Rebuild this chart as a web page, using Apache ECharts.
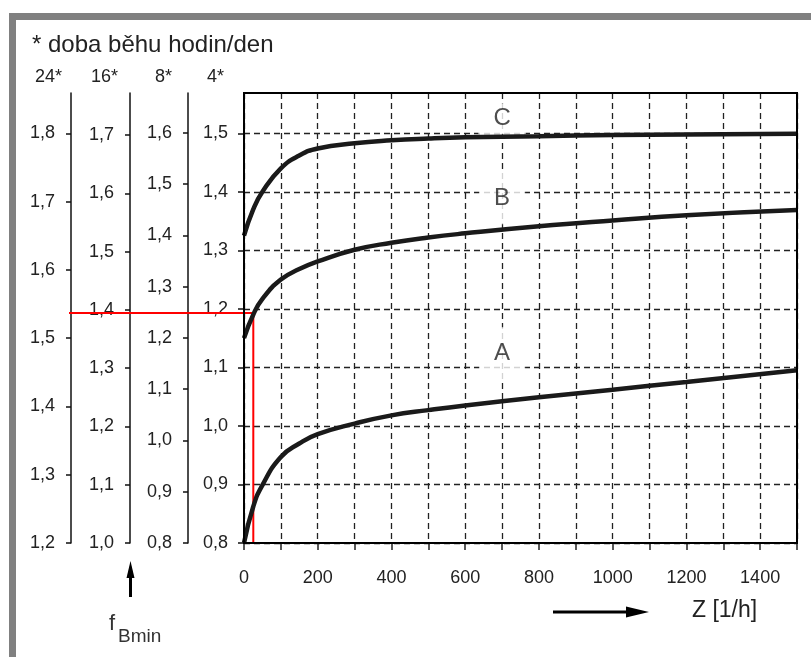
<!DOCTYPE html>
<html><head><meta charset="utf-8">
<script src="https://cdn.jsdelivr.net/npm/echarts@6/dist/echarts.min.js"></script>
<style>html,body{margin:0;padding:0;background:#fff}#c{width:811px;height:657px}</style>
</head><body><div id="c"></div><script>
// ---- data ----
const zValues = [0, 25, 50, 100, 150, 200, 300, 400, 500, 600, 800, 1000, 1200, 1500];
const curveA  = [0.80, 0.862, 0.899, 0.947, 0.970, 0.986, 1.004, 1.018, 1.027, 1.035, 1.049, 1.062, 1.075, 1.095];
const curveB  = [1.15, 1.19, 1.217, 1.25, 1.268, 1.281, 1.301, 1.313, 1.322, 1.329, 1.341, 1.351, 1.360, 1.369];
const curveC  = [1.325, 1.37, 1.40, 1.44, 1.462, 1.474, 1.483, 1.488, 1.491, 1.493, 1.495, 1.497, 1.498, 1.499];
const curveNames = ['A', 'B', 'C'];
const curveLabelZ = 700;
const curveLabelLevels = [1.124, 1.389, 1.525];
const refZ = [-475, 25, 25];
const refF = [1.193, 1.193, 0.80];
const xTickLabels = [0, 200, 400, 600, 800, 1000, 1200, 1400];
const axis4Ticks  = [0.8, 0.9, 1.0, 1.1, 1.2, 1.3, 1.4, 1.5];
const axis8Ticks  = [0.8, 0.9, 1.0, 1.1, 1.2, 1.3, 1.4, 1.5, 1.6];
const axis16Ticks = [1.0, 1.1, 1.2, 1.3, 1.4, 1.5, 1.6, 1.7];
const axis24Ticks = [1.2, 1.3, 1.4, 1.5, 1.6, 1.7, 1.8];
const axisNames = ['4*', '8*', '16*', '24*'];
const titleText = '* doba běhu hodin/den';
const xName = 'Z [1/h]';

// ---- chart ----
const FONT = "'Liberation Sans', sans-serif";
const fmt = v => v.toFixed(1).replace('.', ',');
const toPairs = (xs, ys) => xs.map((x, i) => [x, ys[i]]);
const Z_MIN = 0, Z_MAX = 1500, F4_MIN = 0.8, F4_MAX = 1.5688;
const labelPads = [[14, 15, 14, 15], [14, 15, 14, 15], [4, 15, 3, 15]];

function yAx(name, min, max, ticks, offset, pr, isMain) {
  return {
    type: 'value', gridIndex: 0, position: 'left', offset: offset, min: min, max: max,
    name: name, nameLocation: 'end', nameGap: 7,
    nameTextStyle: {fontFamily: FONT, fontSize: 18, color: '#222', align: 'right', verticalAlign: 'bottom', padding: [0, pr, 0, 0]},
    axisLine: {show: true, lineStyle: {color: '#111', width: isMain ? 2 : 1.5}},
    axisTick: {show: true, length: isMain ? 6 : 5, customValues: ticks, lineStyle: {color: '#111', width: 1.5}},
    axisLabel: {customValues: ticks, formatter: fmt, margin: 16, fontFamily: FONT, fontSize: 18, color: '#222'},
    splitLine: {show: !!isMain, lineStyle: {type: [6, 4], color: '#222', width: 1.3}}
  };
}

const chart = echarts.init(document.getElementById('c'), null, {renderer: 'canvas'});
chart.setOption({
  backgroundColor: '#fff',
  animation: false,
  title: {text: titleText, left: 27, top: 28, textStyle: {fontFamily: FONT, fontSize: 24, fontWeight: 'normal', color: '#222'}},
  grid: [
    {left: 244, right: 14, top: 93, bottom: 114, show: true, borderColor: '#000', borderWidth: 2, z: 5},
    // overlay grid reaching to the 24* axis, used for the red reading line
    {left: 69, right: 14, top: 93, bottom: 114, show: false}
  ],
  xAxis: [{
    type: 'value', gridIndex: 0, min: Z_MIN, max: Z_MAX, interval: 100,
    name: xName, nameLocation: 'end', nameGap: -105,
    nameTextStyle: {fontFamily: FONT, fontSize: 23, color: '#222', align: 'left', verticalAlign: 'top', padding: [56, 0, 0, 0]},
    axisLine: {lineStyle: {color: '#000', width: 2}},
    axisTick: {length: 7, lineStyle: {color: '#222', width: 1.5}},
    axisLabel: {customValues: xTickLabels, formatter: v => String(v), margin: 26, fontFamily: FONT, fontSize: 18, color: '#222'},
    splitLine: {show: true, lineStyle: {type: [6, 4], color: '#222', width: 1.3}}
  }, {
    type: 'value', gridIndex: 1, min: refZ[0], max: Z_MAX, show: false,
    axisLine: {show: false}, axisTick: {show: false}, axisLabel: {show: false}, splitLine: {show: false}
  }],
  yAxis: [
    yAx(axisNames[0], F4_MIN, F4_MAX, axis4Ticks, 0, 20, true),
    yAx(axisNames[1], 0.8, 1.6774, axis8Ticks, 56, 16, false),
    yAx(axisNames[2], 1.0, 1.772, axis16Ticks, 114, 12, false),
    yAx(axisNames[3], 1.2, 1.859, axis24Ticks, 173, 9, false),
    {type: 'value', gridIndex: 1, min: F4_MIN, max: F4_MAX, show: false,
     axisLine: {show: false}, axisTick: {show: false}, axisLabel: {show: false}, splitLine: {show: false}}
  ],
  series: [
    {type: 'line', name: 'ref', xAxisIndex: 1, yAxisIndex: 4, data: toPairs(refZ, refF), symbol: 'none', z: 2,
     lineStyle: {color: '#ff0000', width: 2}},
    {type: 'line', name: curveNames[0], data: toPairs(zValues, curveA), smooth: 0.5, symbol: 'none', z: 3,
     lineStyle: {color: '#1a1a1a', width: 4.5}},
    {type: 'line', name: curveNames[1], data: toPairs(zValues, curveB), smooth: 0.5, symbol: 'none', z: 3,
     lineStyle: {color: '#1a1a1a', width: 4.5}},
    {type: 'line', name: curveNames[2], data: toPairs(zValues, curveC), smooth: 0.5, symbol: 'none', z: 3,
     lineStyle: {color: '#1a1a1a', width: 4.5}},
    {type: 'scatter', name: 'labels', symbolSize: 1, itemStyle: {color: 'rgba(0,0,0,0)'}, z: 1,
     data: curveNames.map((n, i) => ({value: [curveLabelZ, curveLabelLevels[i]], name: n, label: {padding: labelPads[i]}})),
     label: {show: true, position: 'inside', formatter: p => p.name, fontFamily: FONT, fontSize: 24, color: '#222',
             backgroundColor: '#fff'}}
  ],
  graphic: [
    {type: 'rect', shape: {x: 9, y: 13, width: 802, height: 7}, style: {fill: '#808080'}, silent: true},
    {type: 'rect', shape: {x: 9, y: 13, width: 7, height: 644}, style: {fill: '#808080'}, silent: true},
    {type: 'line', shape: {x1: 553, y1: 612, x2: 630, y2: 612}, style: {stroke: '#000', lineWidth: 3}},
    {type: 'polygon', shape: {points: [[626, 606.5], [649, 612], [626, 617.5]]}, style: {fill: '#000'}},
    {type: 'line', shape: {x1: 130.5, y1: 597, x2: 130.5, y2: 575}, style: {stroke: '#000', lineWidth: 3}},
    {type: 'polygon', shape: {points: [[126.5, 578], [130.5, 561], [134.5, 578]]}, style: {fill: '#000'}},
    {type: 'text', x: 109, y: 613, style: {text: 'f', font: "22px 'Liberation Sans', sans-serif", fill: '#333'}},
    {type: 'text', x: 118, y: 627, style: {text: 'Bmin', font: "19px 'Liberation Sans', sans-serif", fill: '#333'}}
  ]
});
</script></body></html>
